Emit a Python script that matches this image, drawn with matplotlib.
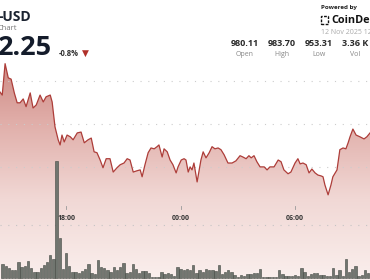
import matplotlib.pyplot as plt
import numpy as np
from matplotlib.colors import LinearSegmentedColormap
from matplotlib.patches import Polygon, Rectangle

# price trace, time in minutes after 18:00
times = [-208, -201, -192, -182, -173, -163, -154, -145, -135, -126, -113, -104, -94, -82, -72, -63,
         -50, -44, -35, -25, -19, -13, -6, 3, 13, 22, 35, 47, 57, 69, 79, 88, 97, 107, 116, 126,
         138, 148, 160, 170, 182, 192, 201, 211, 223, 233, 239, 248, 258, 267, 277, 286, 292, 302,
         308, 318, 327, 336, 346, 352, 362, 371, 377, 384, 390, 396, 402, 412, 424, 431, 440, 450,
         459, 468, 478, 487, 497, 509, 522, 534, 547, 556, 566, 575, 582, 591, 600, 610, 623, 632,
         641, 654, 667, 676, 685, 698, 707, 720, 729, 736, 745, 755, 764, 773, 783, 792, 802, 808,
         814, 824, 833, 839, 852, 861, 871, 880, 887, 893, 902, 912, 924, 937, 946, 956]
prices = [977.4, 976.7, 984.0, 980.7, 980.4, 977.2, 974.9, 974.9, 975.8, 974.0, 977.2, 973.7, 974.4,
          976.7, 975.1, 976.3, 976.7, 975.1, 969.3, 966.3, 965.1, 967.4, 965.8, 967.4, 967.0, 966.3,
          967.9, 968.1, 965.6, 966.3, 966.7, 963.5, 963.3, 961.6, 959.8, 961.9, 961.9, 958.8, 959.8,
          960.5, 960.9, 961.9, 961.6, 958.8, 959.1, 959.3, 957.7, 960.5, 963.3, 964.4, 964.2, 964.7,
          965.1, 962.3, 964.2, 963.5, 961.6, 960.5, 958.6, 960.0, 961.6, 961.9, 961.6, 958.8, 960.0,
          959.3, 960.9, 956.5, 961.6, 963.5, 962.1, 963.3, 964.7, 964.2, 964.4, 964.0, 962.8, 960.9,
          960.9, 961.4, 962.6, 962.3, 961.9, 962.6, 962.1, 962.6, 961.2, 960.0, 960.0, 959.3, 960.0,
          960.0, 961.6, 961.2, 959.3, 958.4, 958.8, 960.9, 961.9, 960.7, 960.9, 960.5, 958.6, 959.5,
          958.6, 958.1, 957.9, 957.7, 955.8, 953.5, 955.8, 957.7, 959.3, 964.0, 964.4, 964.2, 965.6,
          967.0, 968.8, 967.4, 967.0, 966.5, 967.0, 967.9]

# 10 minute volume bars
vol_times = list(range(-200, 960, 10))
volumes = [14, 12, 10, 8, 8, 16, 11, 12, 17, 10, 6, 6, 10, 13, 16, 23, 19, 117, 40, 9,
           25, 12, 6, 6, 5, 7, 9, 14, 5, 4, 18, 11, 10, 8, 6, 11, 8, 11, 15, 5,
           6, 14, 9, 5, 7, 7, 5, 1, 1, 1, 6, 4, 5, 4, 2, 11, 9, 8,
           9, 8, 13, 5, 8, 6, 9, 8, 8, 7, 13, 4, 6, 8, 6, 3, 1, 3, 2, 4,
           4, 5, 5, 9, 1, 1, 1, 1, 1, 8, 4, 2, 2, 2, 3, 2, 10, 6, 2, 4,
           5, 5, 3, 3, 2, 2, 10, 3, 8, 2, 19, 6, 9, 12, 2, 3, 8, 5]

tick_pos = [0, 360, 720]
tick_labels = ['18:00', '00:00', '06:00']
grid_prices = [980, 970, 960]
stat_values = ['980.11', '983.70', '953.31', '3.36 K']
stat_names = ['Open', 'High', 'Low', 'Vol']

W, H = 370, 280
plt.rcParams['font.family'] = ['Open Sans', 'DejaVu Sans']

fig = plt.figure(figsize=(3.7, 2.8), dpi=100)
ax = fig.add_axes([0, 0, 1, 1])
xmin, xmax = -208, 955.8
ymin, ymax = 933.7, 998.8
ax.set_xlim(xmin, xmax)
ax.set_ylim(ymin, ymax)
ax.axis('off')

# gradient area under the price line
cmap = LinearSegmentedColormap.from_list('fade', [(0, '#faefed'), (0.29, '#f1d8d5'),
                                                  (0.57, '#e0ada8'), (0.79, '#cc8882'),
                                                  (1, '#c27770')])
grad = np.linspace(0, 1, 256).reshape(-1, 1)
img = ax.imshow(grad, extent=[xmin, xmax, ymin, ymax], origin='lower', aspect='auto',
                cmap=cmap, zorder=1)
verts = np.column_stack([times + [times[-1], times[0]], prices + [ymin, ymin]])
poly = Polygon(verts, closed=True, facecolor='none', edgecolor='none')
ax.add_patch(poly)
img.set_clip_path(poly)

for p in grid_prices:
    ax.axhline(p, color='#cccccc', ls=(0, (1, 6)), lw=0.8, zorder=2)

ax.plot(times, prices, color='#ad3d39', lw=0.9, zorder=3)

# time axis
xt = ax.get_xaxis_transform()
ax.axhline(946.5, color='#c4c4c4', ls=(0, (1, 6)), lw=0.8, zorder=2)
for tp, tl in zip(tick_pos, tick_labels):
    ax.plot([tp, tp], [1 - 206 / H, 1 - 209 / H], color='#999999', lw=0.6, transform=xt, zorder=3)
    ax.text(tp, 1 - 219 / H, tl, transform=xt, ha='center', va='center', fontsize=5,
            fontweight='bold', color='#333333', zorder=4)

# volume
ax2 = fig.add_axes([0, 0, 1, 1])
ax2.set_xlim(xmin, xmax)
ax2.set_ylim(-2, 278)
ax2.axis('off')
ax2.patch.set_alpha(0)
ax2.bar(vol_times, volumes, width=7.5, color='#70756f', edgecolor='#434842', lw=0.4)


def put(x, y, s, **kw):
    fig.text(x / W, 1 - y / H, s, **kw)


put(-1, 17, '-USD', ha='left', va='center', fontsize=10, fontweight='bold', color='#1b2330')
put(-2, 28, 'Chart', ha='left', va='center', fontsize=5.5, color='#777777')
put(-2, 48, '2.25', ha='left', va='center', fontsize=19.5, fontweight='bold', color='#141c2b')
put(59, 54, '-0.8%', ha='left', va='center', fontsize=5.5, fontweight='bold', color='#333333')
put(82, 53.5, '▼', ha='left', va='center', fontsize=6.5, color='#b0302a', family='DejaVu Sans')

put(321, 7, 'Powered by', ha='left', va='center', fontsize=4.5, fontweight='bold', color='#222222')
fig.patches.append(Rectangle((321 / W, 1 - 24 / H), 7 / W, 8 / H, transform=fig.transFigure,
                             facecolor='none', edgecolor='#111111', lw=1.0, ls=(0, (2, 1))))
put(331, 20.5, 'CoinDesk', ha='left', va='center', fontsize=7.8, fontweight='bold', color='#111111')
put(321, 33, '12 Nov 2025 12:00', ha='left', va='center', fontsize=5, color='#aaaaaa')

for cx, v, n in zip([245, 282, 319, 355], stat_values, stat_names):
    put(cx, 44, v, ha='center', va='center', fontsize=6.5, fontweight='bold', color='#2a2a2a')
    put(cx, 54, n, ha='center', va='center', fontsize=5, color='#888888')

fig.savefig('out.png', dpi=100)
